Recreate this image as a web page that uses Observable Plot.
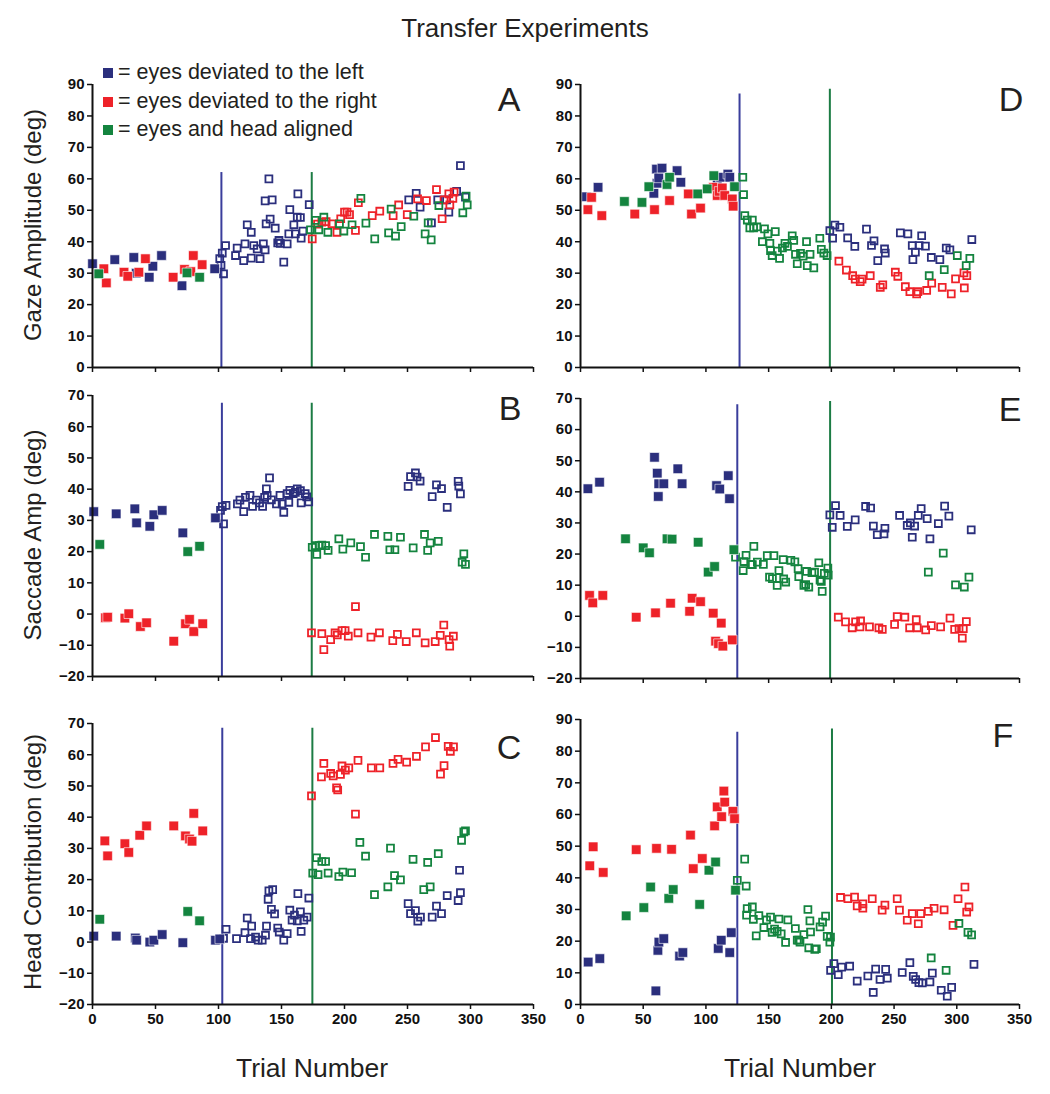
<!DOCTYPE html>
<html><head><meta charset="utf-8">
<script src="https://cdn.jsdelivr.net/npm/d3@7"></script>
<script src="https://cdn.jsdelivr.net/npm/@observablehq/plot@0.6"></script>
<style>
body{margin:0;background:#fff;}
#root{position:relative;width:1050px;height:1094px;font-family:"Liberation Sans",Arial,sans-serif;color:#231f20;overflow:hidden;}
.abs{position:absolute;white-space:nowrap;line-height:1;}
.plot{position:absolute;}
.plot svg{overflow:visible;}
</style></head><body><div id="root"></div>
<script>
// ---------- DATA (trial number, degrees) ----------
const xTicks = [0,50,100,150,200,250,300,350];
const legendLabels = ["= eyes deviated to the left","= eyes deviated to the right","= eyes and head aligned"];
const yTitles = ["Gaze Amplitude (deg)","Saccade Amp (deg)","Head Contribution (deg)"];

// Panel A: Gaze Amplitude
const aLeftFilled = [[0,33],[17.7,34.3],[32.8,35],[34.7,30],[45,28.7],[47.9,32.2],[54.8,35.6],[71,26],[97,31.4]];
const aRightFilled = [[9,31.4],[11,26.9],[25,30.3],[28,29],[36.8,30.3],[42,34.6],[64,28.7],[73,31.2],[78,30.5],[80,35.6],[87,32.7]];
const aAlignFilled = [[5,29.8],[75,30.1],[85,28.7]];
const aLeftOpen = [[101,34.6],[102,32.5],[103,36.4],[104,29.8],[105.6,38.8],[113.5,35.6],[114.8,38],[120,34],[121,39.3],[122.8,45.4],[126,43],[126,34.8],[128,38.8],[130.7,37.7],[133,34.6],[135.6,39.3],[137,37.4],[137,53],[137.8,45.7],[140,60],[141,47.2],[142.6,53.3],[145,44.3],[147,39.6],[148,40.4],[149,39.5],[151.8,33.5],[154.5,39.3],[155.8,42.5],[156.6,50.2],[159.8,45.4],[161,42.5],[162.5,47.8],[163,55.2],[165,47.7],[165.6,41.1],[167,43.4],[172,51.8],
  [251,53.3],[256.9,55.4],[260,51],[269,46],[274,53.3],[281,53.3],[282.8,49.4],[289,56],[292,64.2],[296,54.2]];
const aRightOpen = [[174.4,40.9],[178.6,45.6],[182,46.2],[185.4,46.4],[190,45.7],[194,43],[197,47.3],[200,49.4],[202,49.4],[204,48.6],[208.7,43.6],[211,52.4],[222,48.3],[228,49.7],[238.6,48.3],[243,51.7],[249.8,48.6],[258,53.6],[265,53.1],[273,56.6],[277.5,47.3],[279,53.3],[282.8,55.2],[283.6,51.7],[286,53.8],[287,55.8]];
const aAlignOpen = [[173,43.8],[177,46.8],[179.6,43.8],[183.6,47.8],[186.8,43],[196,45.7],[199.5,43.4],[206,45.4],[213,53.8],[217,45.9],[224,40.9],[235,42.8],[237,50.4],[240.5,41.8],[245,44.8],[255,48.1],[264,42.5],[266.4,46],[268.8,40.6],[274.9,51.5],[293.9,49.2],[296.5,54.5],[297.4,51.7]];

// Panel B: Saccade Amp
const bLeftFilled = [[1,32.8],[18.8,32.1],[33.6,33.7],[35,29.2],[45.5,28.1],[48.7,31.8],[55.3,33.2],[71.7,26],[97.6,30.8]];
const bRightFilled = [[10.3,-1.2],[12,-1],[25.7,-1.3],[28.8,0.1],[38,-4],[42.9,-2.8],[64.5,-8.7],[73.8,-3.1],[77,-1.7],[80.4,-5.6],[87.5,-3.1]];
const bAlignFilled = [[5.8,22.3],[75.6,20],[85,21.7]];
const bLeftOpen = [[101.6,33.2],[103,34.4],[104,28.9],[106,34.8],[115,35.3],[117,36.5],[120,32.8],[121.4,37.4],[125,38],[127,34.5],[130,36.5],[132.6,35.6],[135,34.5],[136.6,37.4],[138,40.1],[138.6,38],[140.5,43.6],[142,36.6],[146,35.3],[148.8,38],[150.5,35.3],[151.8,32.6],[154.5,38.6],[155.8,35.8],[156.6,39.6],[159.3,38.6],[161,39],[162.5,40.1],[165,39.5],[165.6,35.6],[168.8,38.6],[170,37.5],[171.6,35.9],
  [250.5,40.9],[252.4,44],[256.3,45.2],[257.6,43.9],[260,42.6],[269.6,37.6],[273,41.4],[277,40.2],[281.5,34.2],[290.2,42.5],[290.7,41],[292,38.5]];
const bAlignOpen = [[174.4,21.4],[177,21.9],[178,19.1],[180,21.9],[182,22.1],[185,21.9],[187,20.4],[195.5,24.1],[198.7,20.8],[205,22.8],[212.7,21.6],[216.7,18.2],[223.8,25.5],[234.4,24.9],[236,20.6],[240,20.6],[244.4,24.6],[254.5,21.2],[263.5,25.5],[266,20.4],[268,22.8],[274.4,23.3],[293.4,16.6],[294.7,19.3],[296,15.9]];
const bRightOpen = [[173.8,-6],[182,-6.3],[183.6,-11.4],[189,-8.2],[192.5,-6],[194.3,-6.7],[198,-5.3],[200.5,-5.3],[203,-7.1],[208.7,2.4],[210.7,-6],[221,-7.4],[227.7,-6],[238.3,-8.5],[242,-6.5],[249,-8.8],[257,-6],[264,-9.2],[272,-8.8],[276,-6.8],[278.8,-3.5],[283,-8.2],[283.5,-10.3],[286.4,-7.1]];

// Panel C: Head Contribution
const cLeftFilled = [[1,1.9],[18.8,1.9],[34,1.3],[35,0.6],[45.5,0],[48.7,0.6],[55.3,2.4],[71.7,-0.2],[97.6,0.6],[101,1]];
const cRightFilled = [[9.8,32.4],[12,27.6],[25.7,31.5],[28.8,28.7],[37.5,34.2],[42.9,37.2],[64.5,37.2],[73.8,34],[77,33],[79,32.3],[80.4,41.2],[87.5,35.6]];
const cAlignFilled = [[5.8,7.3],[75.6,9.8],[85,6.8]];
const cLeftOpen = [[104,1.2],[106,4.1],[114.3,1.1],[121,3],[122.8,7.7],[125.4,1.1],[126.3,5.1],[129.4,1.6],[131.5,0.6],[134.7,0.6],[137.3,2.2],[138.1,5.1],[139.4,13.7],[140,16.4],[142,10.5],[143,16.8],[144.5,9],[147,4.5],[148.2,3.2],[151.8,0.6],[154.5,2.7],[156.6,10.2],[158.4,7],[160.3,8.6],[162.5,6.8],[163,15.5],[165,9.7],[165.6,3.4],[167.7,7],[170.3,8],[171.7,14.1],
  [250.5,12.3],[252.4,9.1],[256.3,10.1],[258.2,6.7],[260.3,8],[269.6,8],[273,11.5],[277,9.1],[281.5,14.9],[290.2,13.3],[291.3,23],[292,15.8]];
const cAlignOpen = [[174.8,22.1],[177.8,27],[179,21.6],[182,25.8],[185,25.8],[187,22.1],[195.5,21],[198.7,22.4],[205.6,22.2],[212.2,31.9],[216.7,27.5],[223.8,15.2],[234.4,17.7],[236.5,30.1],[239.7,21.3],[244.4,19.9],[254.4,26.5],[262.9,16.8],[266,25.5],[268,17.7],[274.4,28.3],[292.9,32.6],[294.7,35.3],[296,35.6]];
const cRightOpen = [[173.8,46.8],[181.7,52.9],[183.6,57.2],[189,54],[191,53.2],[193.7,49.4],[194.6,48.7],[196.8,53.7],[198,56.4],[200.7,55.1],[203.4,55.8],[208.7,41],[210.7,58.2],[221.3,55.8],[228,55.8],[238.5,57.2],[242.5,58.5],[249.3,57.6],[257.1,59.5],[264.3,62.5],[272.2,65.5],[276.2,53.8],[279,56.5],[282.3,62.7],[284,61.1],[286.5,62.5]];

// Panel D: Gaze Amplitude
const dLeftFilled = [[4.8,54.3],[14,57.3],[58.5,55.4],[60.6,63.1],[61,58.6],[62.4,60.3],[65,63.4],[77,62.6],[80,58.9],[109,59.7],[111.6,60.5],[117.5,61.5],[119,60.5]];
const dRightFilled = [[5.9,50.2],[8.8,54.1],[17,48.3],[43.3,48.8],[59,50.2],[71,53.1],[86,55.2],[88.5,48.8],[95.7,50.7],[106,57.3],[109,54.7],[110.5,56],[113,57.1],[115,54.7],[121,53.6],[121.7,51.3]];
const dAlignFilled = [[35,52.8],[49,52.5],[54.5,57.5],[69,58.2],[71,60.5],[93.5,55.2],[101,56.8],[106.3,61],[122.8,57.5]];
const dAlignOpen = [[129.4,60.5],[130,55],[131,48.3],[133,46.9],[135,44.4],[137,46.9],[138,44.4],[140.6,44.7],[145,40],[146.7,44.1],[149.4,42.5],[151,39.5],[151.5,37.2],[152.8,35.6],[155.3,43.2],[157,37],[158.7,34.7],[161,38],[163,39.5],[165,38.5],[168.8,41.9],[170,40.4],[171.4,36],[172.8,33],[175.4,36.3],[177.5,35.4],[180.2,40],[180.8,32.4],[183,36],[186,31.7],[190.8,41.1],[192,37.6],[194,36.4],[196.6,35.6],[278,29.2],[290,31.1],[300.4,35.6],[307.5,32.4],[310.4,34.7]];
const dLeftOpen = [[198.8,43.5],[201,41.1],[202.8,45.3],[206.8,44.6],[213,41.2],[218.7,38.5],[228,44],[232,38.8],[234,40.3],[237,34],[242.4,37.7],[243,36.4],[255,42.8],[261,42.5],[264.5,38.8],[265,34.3],[267,36.7],[270,38.8],[272,41.9],[275,38.6],[279.7,35],[286.5,34.3],[291.6,38],[294.5,37.4],[312,40.7]];
const dRightOpen = [[206,33.8],[212,31],[217,29.2],[219,28.1],[223,27.3],[224.5,28.1],[231,29.2],[239,25.5],[241,26.3],[251,30.3],[253,29],[259,25.7],[262.6,24.1],[268,23.4],[269,24.1],[276,24.5],[280,26.8],[288.4,25.5],[295.6,23.4],[299,28.2],[305.7,30.1],[306,25.3],[308,29.2]];

// Panel E: Saccade Amp
const eLeftFilled = [[5.9,41],[15.2,43.1],[59,51.1],[61.2,46],[62,38.5],[62.4,42.6],[66.4,42.6],[77.6,47.4],[81,42.6],[108.5,42],[111,40.9],[117.8,45.2],[118.8,37.8]];
const eRightFilled = [[7.2,6.7],[9.8,4.3],[17.8,6.7],[44.4,-0.3],[59.8,1.1],[71.8,4.2],[87,1.6],[89,5.8],[95.7,4.7],[105.8,1],[107.7,-8],[110,-8.8],[112.2,-2.2],[113.5,-9.6],[121,-7.6]];
const eAlignFilled = [[35.9,24.9],[50,22],[55,20.4],[69,24.9],[73,24.8],[93.8,23.8],[101.8,14.2],[106.9,16],[122.3,21.4]];
const eAlignOpen = [[123.6,19],[129.7,14.7],[130.3,17.6],[132,19.6],[136,16.7],[137,16.6],[138.2,22.5],[141,17.4],[145.8,16.7],[148.9,19.5],[150.7,12.6],[153,12.1],[154.2,19.5],[156.8,9.9],[158.2,14.7],[161.6,18.2],[162,12],[163.6,11],[167.7,18],[170.9,17.5],[173.5,15.3],[174,12.7],[178.1,9.9],[179.5,10.2],[180.2,14.4],[182,9.4],[184.5,14],[186.6,14.2],[190,17.2],[191,11.6],[192,11.2],[192.7,8],[194.4,13.8],[197.2,15.5],[197.5,13.2],[277.3,14.2],[289.2,20.3],[299,10.1],[306,9.4],[309.7,12.6]];
const eLeftOpen = [[198.8,32.6],[200.7,28.6],[203.3,35.6],[207,32.4],[212.7,28.9],[219,31],[227.3,35.3],[231.3,34.8],[233.5,29],[236.6,26.2],[242,26.5],[242.7,28.3],[254.4,32.4],[260.5,29.2],[263,30],[264.5,25.4],[266.4,29],[269.3,32.4],[271.6,34.6],[276.4,31.4],[278.6,24.9],[285.3,29.8],[290.3,35.4],[293.7,32.2],[311.5,27.8]];
const eRightOpen = [[205.5,-0.3],[211.3,-1.8],[216.6,-3.7],[219.3,-1.8],[222.8,-3.4],[223.3,-1.5],[230.4,-3.4],[237.9,-3.7],[240.6,-4.2],[250.4,-2.6],[252.5,-0.1],[258.6,-0.3],[262.4,-3.7],[267.7,-1.1],[268.5,-3.7],[275.2,-4.4],[279.7,-3],[287.1,-3.4],[294.6,-0.6],[298.3,-4.2],[301.8,-4],[304.4,-7],[305.2,-4],[307.6,-1.7]];

// Panel F: Head Contribution
const fLeftFilled = [[6.1,13.4],[15.4,14.5],[60.1,4.3],[61.7,17.1],[62.5,19.7],[66.4,20.8],[79,15.3],[81.6,16.4],[109.8,17.7],[112.2,20.3],[119,16.4],[120.2,22.7]];
const fRightFilled = [[7.4,43.8],[10.1,49.8],[18.1,41.7],[44.4,48.9],[60.6,49.3],[72.6,49],[87.7,53.5],[89.9,42.9],[97.1,46.1],[106.9,56.4],[109,62.4],[112.5,59.3],[114.3,67.4],[115,63.9],[121.5,61],[122.8,58.7]];
const fAlignFilled = [[36.4,28],[50.5,30.6],[55.9,37.1],[70.4,33.5],[73.9,36.3],[95,31.6],[102.4,42.4],[107.7,45],[123.6,36.1]];
const fAlignOpen = [[125,39.2],[130.9,45.9],[132.1,37.4],[132.4,28.2],[132.9,30.3],[137,30.8],[137.8,26.9],[140.1,21.7],[142.2,28.1],[146.2,24.3],[148.3,26.7],[151.5,27.6],[152.8,22.8],[154.7,23.8],[156.8,23.1],[158.2,27],[160,22.3],[163.5,19.6],[165.3,26.7],[171.3,24],[172.8,20.3],[174,20.3],[175,19.7],[178.1,22.1],[181.3,30],[182,17.9],[182.9,26.4],[183.4,22.9],[186.8,17.4],[188,17.6],[191,24.5],[193,26],[195.4,27.9],[196.7,21.5],[198.8,19.7],[199.3,21.3],[279.6,14.7],[291.5,10.8],[301.7,25.6],[308.9,22.8],[311.8,22]];
const fLeftOpen = [[199.4,10.8],[202,12.9],[205.5,9.4],[208.2,11.8],[214.6,12.1],[220.6,7.4],[229.1,9],[233.4,3.8],[235.3,11.2],[238.8,7.9],[243.3,11.1],[244.6,8.3],[256.5,10.1],[262.6,13.2],[265.3,8.9],[267.2,7.9],[269.8,6.9],[272.5,6.8],[278.6,7.1],[280.5,9.9],[287.6,4.5],[292.4,2.6],[295.9,5.4],[313.7,12.7]];
const fRightOpen = [[207.3,33.8],[213.2,33.4],[218.5,33.9],[220.6,31.1],[225.1,31.8],[225.1,30.4],[232.6,33.4],[240.5,29.8],[242.7,31.4],[252.5,33.4],[254.3,29.8],[260.5,26.6],[264.5,28.7],[269.3,25.5],[271.2,28.7],[277.3,29.4],[281.9,30.4],[289.9,29.9],[297,25],[301,33.4],[306.5,37.1],[307.9,29.2],[309.7,30.8]];

// Condition switches: [trial, extent of the drawn line in deg]
const switchesA = [[102.3,62],[174,62]];
const switchesB = [[102.7,67.5],[174,67.5]];
const switchesC = [[103,68.5],[174.5,68.5]];
const switchesD = [[126.8,87],[198.8,88.5]];
const switchesE = [[125,68],[199,69]];
const switchesF = [[125,86],[200.5,87]];

// ---------- STYLE ----------
const COL = {left:"#2b2f7d", right:"#ee2229", align:"#14843f"};
const LINE = ["#3a3e9c", "#1c7c44"];

const root = document.getElementById("root");
function addText(txt, x, y, css, anchor){
  const d = document.createElement("div");
  d.className = "abs";
  d.textContent = txt;
  Object.assign(d.style, css);
  d.style.left = x + "px"; d.style.top = y + "px";
  d.style.transform = anchor || "translate(-50%,-50%)";
  root.appendChild(d);
  return d;
}

const panels = [
  {L:"A", left:0,   top:60,  w:545, h:330, ml:92, mr:12, mt:24, mb:23, y:[0,90],   lab:false, s:[aLeftFilled,aRightFilled,aAlignFilled,aLeftOpen,aRightOpen,aAlignOpen], sw:switchesA, lx:509, ly:99},
  {L:"B", left:0,   top:380, w:545, h:320, ml:92, mr:12, mt:15, mb:24, y:[-20,70], lab:false, s:[bLeftFilled,bRightFilled,bAlignFilled,bLeftOpen,bRightOpen,bAlignOpen], sw:switchesB, lx:510, ly:408},
  {L:"C", left:0,   top:700, w:545, h:340, ml:92, mr:12, mt:23, mb:36, y:[-20,70], lab:true,  s:[cLeftFilled,cRightFilled,cAlignFilled,cLeftOpen,cRightOpen,cAlignOpen], sw:switchesC, lx:509, ly:747},
  {L:"D", left:540, top:60,  w:510, h:330, ml:40, mr:31, mt:24, mb:23, y:[0,90],   lab:false, s:[dLeftFilled,dRightFilled,dAlignFilled,dLeftOpen,dRightOpen,dAlignOpen], sw:switchesD, lx:1011, ly:99},
  {L:"E", left:540, top:380, w:510, h:320, ml:40, mr:31, mt:18, mb:22, y:[-20,70], lab:false, s:[eLeftFilled,eRightFilled,eAlignFilled,eLeftOpen,eRightOpen,eAlignOpen], sw:switchesE, lx:1010, ly:409},
  {L:"F", left:540, top:700, w:510, h:340, ml:40, mr:31, mt:19, mb:36, y:[0,90],   lab:true,  s:[fLeftFilled,fRightFilled,fAlignFilled,fLeftOpen,fRightOpen,fAlignOpen], sw:switchesF, lx:1003, ly:735}
];

const keys = ["left","right","align"];
for (const p of panels) {
  const y0 = p.y[0];
  const marks = [];
  p.sw.forEach((s, i) => {
    marks.push(Plot.ruleX([s], {x: d => d[0], y1: y0, y2: d => d[1], stroke: LINE[i], strokeWidth: 2}));
  });
  [3,4,5].forEach(k => {
    marks.push(Plot.dot(p.s[k], {x: d => d[0], y: d => d[1], symbol: "square", r: 3.9, fill: "none", stroke: COL[keys[k-3]], strokeWidth: 1.8}));
  });
  [0,1,2].forEach(k => {
    marks.push(Plot.dot(p.s[k], {x: d => d[0], y: d => d[1], symbol: "square", r: 5.4, fill: COL[keys[k]], stroke: "white", strokeWidth: 0.6}));
  });
  marks.push(Plot.axisY({ticks: d3.range(p.y[0], p.y[1] + 1, 10), tickSize: 5, tickPadding: 3, strokeWidth: 1.5, label: null, fill: "#111"}));
  marks.push(Plot.axisX({ticks: xTicks, tickSize: 5, tickPadding: 4, strokeWidth: 1.5, label: null, fill: "#111", tickFormat: p.lab ? (d => d) : (() => "")}));
  marks.push(Plot.ruleX([0], {stroke: "#111", strokeWidth: 2}));
  marks.push(Plot.ruleY([y0], {stroke: "#111", strokeWidth: 2}));

  const svg = Plot.plot({
    width: p.w, height: p.h,
    marginLeft: p.ml, marginRight: p.mr, marginTop: p.mt, marginBottom: p.mb,
    x: {domain: [0, 350]},
    y: {domain: p.y},
    style: {fontFamily: "'Liberation Sans', Arial, sans-serif", fontSize: "15px", fontWeight: "bold", color: "#111", background: "transparent", overflow: "visible"},
    marks
  });
  const wrap = document.createElement("div");
  wrap.className = "plot";
  wrap.style.left = p.left + "px"; wrap.style.top = p.top + "px";
  wrap.appendChild(svg);
  root.appendChild(wrap);
  addText(p.L, p.lx, p.ly, {fontSize: "34px", color: "#231f20"});
}

// titles
addText("Transfer Experiments", 525, 28, {fontSize: "26px"});
addText(yTitles[0], 33, 225, {fontSize: "24px"}, "translate(-50%,-50%) rotate(-90deg)");
addText(yTitles[1], 33, 535, {fontSize: "24px"}, "translate(-50%,-50%) rotate(-90deg)");
addText(yTitles[2], 33, 862, {fontSize: "24px"}, "translate(-50%,-50%) rotate(-90deg)");
addText("Trial Number", 312, 1068, {fontSize: "26.5px"});
addText("Trial Number", 800, 1068, {fontSize: "26.5px"});

// legend
const legY = [73, 102, 130];
keys.forEach((k, i) => {
  const sq = document.createElement("div");
  sq.className = "abs";
  Object.assign(sq.style, {left: "103px", top: (legY[i] - 5) + "px", width: "10px", height: "10px", background: COL[k]});
  root.appendChild(sq);
  addText(legendLabels[i], 118, legY[i], {fontSize: "21.5px"}, "translate(0,-50%)");
});
</script></body></html>
